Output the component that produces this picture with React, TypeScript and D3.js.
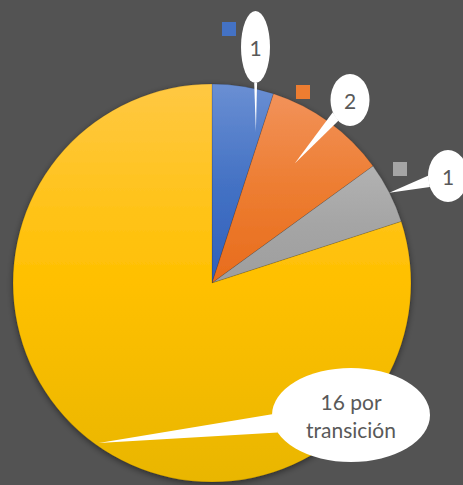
import React from "react";
import * as d3 from "d3";

const categories = ["A", "B", "C", "D"];
const values = [1, 2, 1, 16];
const labelTexts = [["1"], ["2"], ["1"], ["16 por", "transición"]];

const topColors = ["#6A8FD3", "#F2925A", "#B2B2B2", "#FFC843"];
const midColors = ["#4472C4", "#ED7D31", "#A5A5A5", "#FFC000"];
const bottomColors = ["#3060BC", "#E86C1C", "#9E9E9E", "#E9B600"];
const keyColors = ["#4472C4", "#ED7D31", "#A5A5A5", null];

const W = 463;
const H = 485;
const cx = 212;
const cy = 283;
const R = 199;

const callouts = [
  { ex: 255.5, ey: 47, rx: 14.5, ry: 36, tipAng: 16.2, tipR: 0.79, spread: 0.1, key: [222, 22] },
  { ex: 350, ey: 100, rx: 19.5, ry: 26, tipAng: 34.7, tipR: 0.73, spread: 0.22, key: [296, 85] },
  { ex: 448, ey: 176, rx: 20, ry: 26, tipAng: 63, tipR: 1.0, spread: 0.22, key: [393, 162] },
  { ex: 351, ey: 415, rx: 79, ry: 47, tipAng: 215.3, tipR: 0.985, spread: 0.2, key: null },
];

export default function App() {
  const pie = d3.pie<number>().sort(null).value((d) => d)(values);
  const arc = d3.arc<d3.PieArcDatum<number>>().innerRadius(0).outerRadius(R);

  return (
    <svg
      width={W}
      height={H}
      style={{ position: "absolute", left: 0, top: 0, background: "#535353" }}
    >
      <defs>
        {categories.map((c, i) => (
          <linearGradient key={c} id={`g${i}`} x1="0" y1="0" x2="0" y2="1">
            <stop offset="0" stopColor={topColors[i]} />
            <stop offset="0.5" stopColor={midColors[i]} />
            <stop offset="1" stopColor={bottomColors[i]} />
          </linearGradient>
        ))}
        <filter id="sh" x="-20%" y="-20%" width="140%" height="140%">
          <feDropShadow dx="0" dy="2" stdDeviation="3" floodColor="#000" floodOpacity="0.45" />
        </filter>
      </defs>
      <rect width={W} height={H} fill="#535353" />
      <g transform={`translate(${cx},${cy})`} filter="url(#sh)">
        {pie.map((p, i) => (
          <path
            key={categories[i]}
            d={arc(p) || ""}
            fill={`url(#g${i})`}
            stroke="rgba(0,0,0,0.18)"
            strokeWidth={0.75}
          />
        ))}
      </g>
      {callouts.map((c, i) => {
        const a = (c.tipAng * Math.PI) / 180;
        const tx = cx + Math.sin(a) * R * c.tipR;
        const ty = cy - Math.cos(a) * R * c.tipR;
        const th = Math.atan2((ty - c.ey) / c.ry, (tx - c.ex) / c.rx);
        const p1 = [c.ex + c.rx * Math.cos(th - c.spread), c.ey + c.ry * Math.sin(th - c.spread)];
        const p2 = [c.ex + c.rx * Math.cos(th + c.spread), c.ey + c.ry * Math.sin(th + c.spread)];
        const lines = labelTexts[i];
        const fs = 21;
        const lh = 28;
        return (
          <g key={"c" + i}>
            {c.key && keyColors[i] && (
              <rect x={c.key[0]} y={c.key[1]} width={14} height={14} fill={keyColors[i] as string} />
            )}
            <ellipse cx={c.ex} cy={c.ey} rx={c.rx} ry={c.ry} fill="#FFFFFF" />
            <path d={`M${tx},${ty}L${p1[0]},${p1[1]}L${p2[0]},${p2[1]}Z`} fill="#FFFFFF" />
            <text
              x={c.ex}
              y={c.ey - ((lines.length - 1) * lh) / 2}
              textAnchor="middle"
              dominantBaseline="central"
              fontFamily="Lato, 'Open Sans', sans-serif"
              fontSize={fs}
              fill="#595959"
            >
              {lines.map((l, j) => (
                <tspan key={j} x={c.ex} dy={j === 0 ? 0 : lh}>
                  {l}
                </tspan>
              ))}
            </text>
          </g>
        );
      })}
    </svg>
  );
}
